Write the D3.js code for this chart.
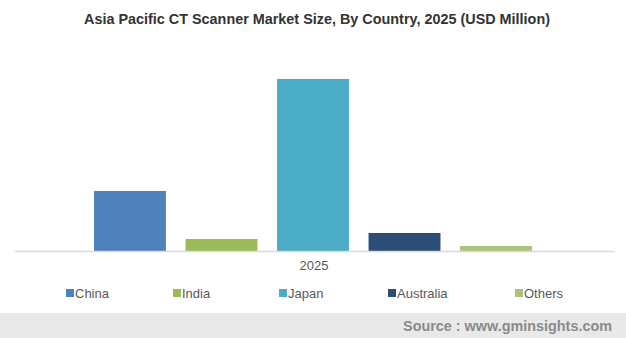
<!DOCTYPE html>
<html>
<head>
<meta charset="utf-8">
<script src="https://cdn.jsdelivr.net/npm/d3@7"></script>
<style>
  html, body { margin: 0; padding: 0; background: #fff; }
  svg { display: block; }
</style>
</head>
<body>
<svg id="chart" width="626" height="338"></svg>
<script>
// Market size by country, 2025 (USD Million)
const countries = ["China", "India", "Japan", "Australia", "Others"];
const values2025 = [300, 60, 860, 90, 25];
const colors = ["#4f81bd", "#9bbb59", "#4bacc6", "#2c4d75", "#a9c47a"];
const yearLabel = "2025";
const titleText = "Asia Pacific CT Scanner Market Size, By Country, 2025 (USD Million)";
const sourceText = "Source : www.gminsights.com";

const svg = d3.select("#chart");
const W = 626, H = 338;
const baseY = 251, topY = 51;

const x = d3.scaleBand().domain(countries).range([94, 532]).paddingInner(0.214).paddingOuter(0);
const y = d3.scaleLinear().domain([0, 1000]).range([baseY, topY]);
const color = d3.scaleOrdinal().domain(countries).range(colors);

// title
svg.append("text")
  .attr("x", 317).attr("y", 24)
  .attr("text-anchor", "middle")
  .style("font-family", "Liberation Sans, Arial, sans-serif")
  .style("font-weight", "bold").style("font-size", "14.4px")
  .attr("fill", "#333")
  .text(titleText);

// bars
svg.append("g").selectAll("rect")
  .data(countries.map((c, i) => ({ c, v: values2025[i] })))
  .join("rect")
  .attr("x", d => x(d.c))
  .attr("width", x.bandwidth())
  .attr("y", d => y(d.v))
  .attr("height", d => baseY - y(d.v))
  .attr("fill", d => color(d.c));

// category axis
const xAxis = d3.scaleBand().domain([yearLabel]).range([14, 614]);
const axisG = svg.append("g").attr("transform", `translate(0,${baseY})`)
  .call(d3.axisBottom(xAxis).tickSize(0).tickPadding(10));
axisG.select(".domain").attr("stroke", "#d9d9d9").attr("stroke-width", 1.5);
axisG.selectAll("text")
  .style("font-family", "Liberation Sans, Arial, sans-serif")
  .style("font-size", "13px").attr("fill", "#595959");

// legend
const legendX = [66, 173, 279, 388, 515];
const lg = svg.append("g").selectAll("g")
  .data(countries).join("g")
  .attr("transform", (d, i) => `translate(${legendX[i]},293)`);
lg.append("rect").attr("x", 0).attr("y", -4).attr("width", 8).attr("height", 8)
  .attr("fill", d => color(d));
lg.append("text").attr("x", 9).attr("y", 5)
  .style("font-family", "Liberation Sans, Arial, sans-serif")
  .style("font-size", "13px").attr("fill", "#595959")
  .text(d => d);

// footer band
svg.append("rect").attr("x", 0).attr("y", 313).attr("width", W).attr("height", H - 313)
  .attr("fill", "#e9e9e9");
svg.append("text")
  .attr("x", 612).attr("y", 331)
  .attr("text-anchor", "end")
  .style("font-family", "Liberation Sans, Arial, sans-serif")
  .style("font-weight", "bold").style("font-size", "14.4px")
  .attr("fill", "#8a8a8a")
  .text(sourceText);
</script>
</body>
</html>
